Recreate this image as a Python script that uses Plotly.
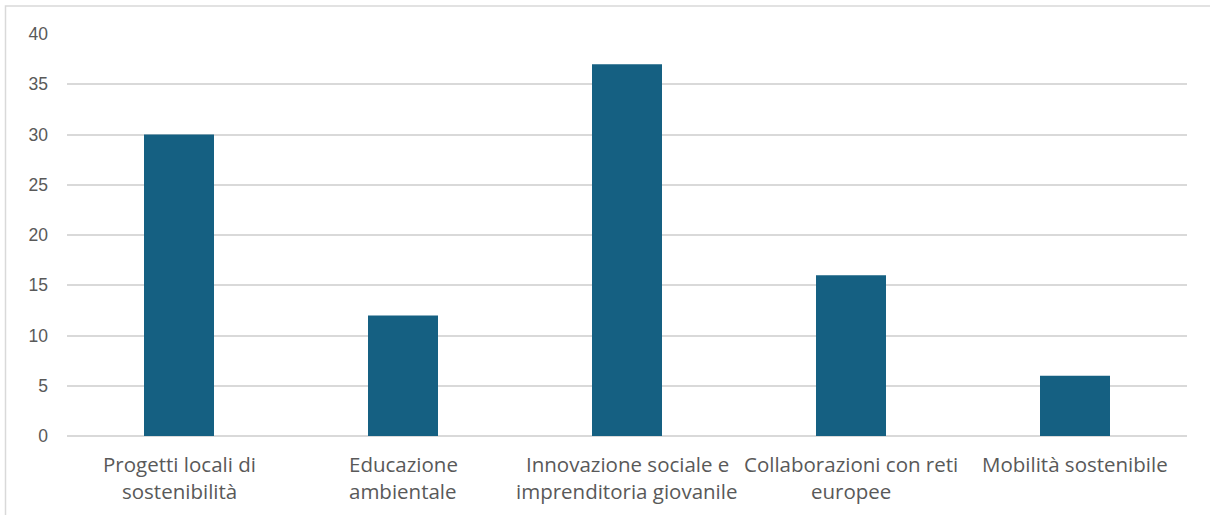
import plotly.graph_objects as go

categories = [
    "Progetti locali di sostenibilità",
    "Educazione ambientale",
    "Innovazione sociale e imprenditoria giovanile",
    "Collaborazioni con reti europee",
    "Mobilità sostenibile",
]
label_lines = [
    ["Progetti locali di", "sostenibilità"],
    ["Educazione", "ambientale"],
    ["Innovazione sociale e", "imprenditoria giovanile"],
    ["Collaborazioni con reti", "europee"],
    ["Mobilità sostenibile"],
]
values = [30, 12, 37, 16, 6]
y_ticks = [0, 5, 10, 15, 20, 25, 30, 35, 40]

W, H = 1210, 515
L, R, T, B = 67, 23, 34, 79
pw, ph = W - L - R, H - T - B

TEXT = "#595959"
GRID = "#d9d9d9"

fig = go.Figure(
    go.Bar(
        x=categories,
        y=values,
        marker=dict(color="#156082", line=dict(width=0)),
        hoverinfo="x+y",
    )
)

# category labels, one annotation per text line for wider line spacing
annotations = []
for cat, lines in zip(categories, label_lines):
    for i, line in enumerate(lines):
        annotations.append(
            dict(
                x=cat,
                y=0,
                xref="x",
                yref="paper",
                text=line,
                showarrow=False,
                xanchor="center",
                yanchor="middle",
                yshift=-(28 + 27 * i),
                font=dict(family="Open Sans, sans-serif", size=20.5, color=TEXT),
            )
        )

# outer chart border, expressed in plot-area paper coordinates
bx0 = (5.5 - L) / pw
bx1 = (W + 10 - L) / pw
by1 = (H - B - 6) / ph
by0 = (H - B - (H + 10)) / ph

fig.update_layout(
    width=W,
    height=H,
    margin=dict(l=L, r=R, t=T, b=B, pad=0),
    paper_bgcolor="white",
    plot_bgcolor="white",
    bargap=0.6875,
    showlegend=False,
    font=dict(family="Liberation Sans, Arial, sans-serif", size=17, color=TEXT),
    xaxis=dict(
        showgrid=False,
        showline=False,
        ticks="",
        showticklabels=False,
    ),
    yaxis=dict(
        range=[0, 40],
        tickvals=y_ticks,
        showgrid=True,
        gridcolor=GRID,
        gridwidth=1.5,
        zeroline=True,
        zerolinecolor=GRID,
        zerolinewidth=1.5,
        showline=False,
        ticks="",
        tickfont=dict(family="Liberation Sans, Arial, sans-serif", size=17.5, color=TEXT),
        ticklabelstandoff=18,
    ),
    annotations=annotations,
    shapes=[
        dict(
            type="rect",
            xref="paper",
            yref="paper",
            x0=bx0,
            x1=bx1,
            y0=by0,
            y1=by1,
            line=dict(color=GRID, width=1.5),
            fillcolor="rgba(0,0,0,0)",
            layer="below",
        )
    ],
)

fig.write_html("out.html")
